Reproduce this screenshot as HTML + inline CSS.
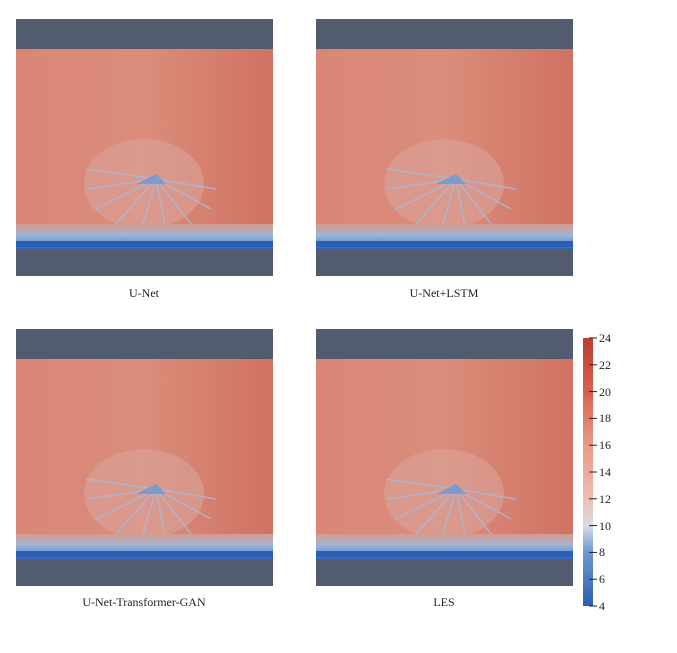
<!DOCTYPE html><html><head><style>body{margin:0;background:#fff;width:677px;height:648px;overflow:hidden}</style></head><body>
<svg width="677" height="648" xmlns="http://www.w3.org/2000/svg" font-family="Liberation Serif, serif">
<defs>
<linearGradient id="f" x1="0" y1="0" x2="1" y2="0"><stop offset="0" stop-color="#d98676"/><stop offset="0.5" stop-color="#db8c7a"/><stop offset="1" stop-color="#d07262"/></linearGradient>
<linearGradient id="b" x1="0" y1="0" x2="0" y2="1"><stop offset="0" stop-color="#d89a8c"/><stop offset="0.45" stop-color="#9fb4d6"/><stop offset="0.75" stop-color="#6f95d0"/><stop offset="1" stop-color="#2f63b8"/></linearGradient>
<linearGradient id="cb" x1="0" y1="1" x2="0" y2="0"><stop offset="0" stop-color="#2a5fb0"/><stop offset="0.2" stop-color="#6f98d2"/><stop offset="0.3" stop-color="#d6dbe6"/><stop offset="0.4" stop-color="#eebdb0"/><stop offset="0.6" stop-color="#e99a86"/><stop offset="0.8" stop-color="#d9604e"/><stop offset="1" stop-color="#c03b30"/></linearGradient>
<g id="p">
<rect x="0" y="0" width="257" height="257" fill="#525c6e"/>
<rect x="0" y="30" width="257" height="180" fill="url(#f)"/>
<ellipse cx="128" cy="165" rx="60" ry="45" fill="#d8a49a" opacity="0.6"/>
<g stroke="#a8bbdc" stroke-width="1.5" opacity="0.8">
<line x1="140" y1="160" x2="70" y2="150"/><line x1="140" y1="160" x2="72" y2="170"/><line x1="140" y1="160" x2="80" y2="190"/><line x1="140" y1="160" x2="100" y2="205"/><line x1="140" y1="160" x2="125" y2="212"/><line x1="140" y1="160" x2="150" y2="212"/><line x1="140" y1="160" x2="175" y2="205"/><line x1="140" y1="160" x2="195" y2="190"/><line x1="140" y1="160" x2="200" y2="170"/></g>
<path d="M120 165 L140 155 L150 165 Z" fill="#7a9ad0"/>
<rect x="0" y="205" width="257" height="25" fill="url(#b)"/>
<rect x="0" y="222" width="257" height="6" fill="#2b5fb5"/>
</g>
</defs>
<use href="#p" x="16" y="19"/><use href="#p" x="316" y="19"/>
<use href="#p" x="16" y="329"/><use href="#p" x="316" y="329"/>
<g font-size="12" fill="#222" text-anchor="middle">
<text x="144" y="297">U-Net</text><text x="444" y="297">U-Net+LSTM</text>
<text x="144" y="606">U-Net-Transformer-GAN</text><text x="444" y="606">LES</text></g>
<rect x="583" y="338" width="10" height="268" fill="url(#cb)"/>
<g font-size="12" fill="#222" stroke="#222">
<g stroke-width="1"><line x1="589" y1="338" x2="597" y2="338"/><line x1="589" y1="364.8" x2="597" y2="364.8"/><line x1="589" y1="391.6" x2="597" y2="391.6"/><line x1="589" y1="418.4" x2="597" y2="418.4"/><line x1="589" y1="445.2" x2="597" y2="445.2"/><line x1="589" y1="472" x2="597" y2="472"/><line x1="589" y1="498.8" x2="597" y2="498.8"/><line x1="589" y1="525.6" x2="597" y2="525.6"/><line x1="589" y1="552.4" x2="597" y2="552.4"/><line x1="589" y1="579.2" x2="597" y2="579.2"/><line x1="589" y1="606" x2="597" y2="606"/></g>
<g stroke="none"><text x="599" y="342">24</text><text x="599" y="369">22</text><text x="599" y="396">20</text><text x="599" y="422">18</text><text x="599" y="449">16</text><text x="599" y="476">14</text><text x="599" y="503">12</text><text x="599" y="530">10</text><text x="599" y="556">8</text><text x="599" y="583">6</text><text x="599" y="610">4</text></g></g>
</svg></body></html>
